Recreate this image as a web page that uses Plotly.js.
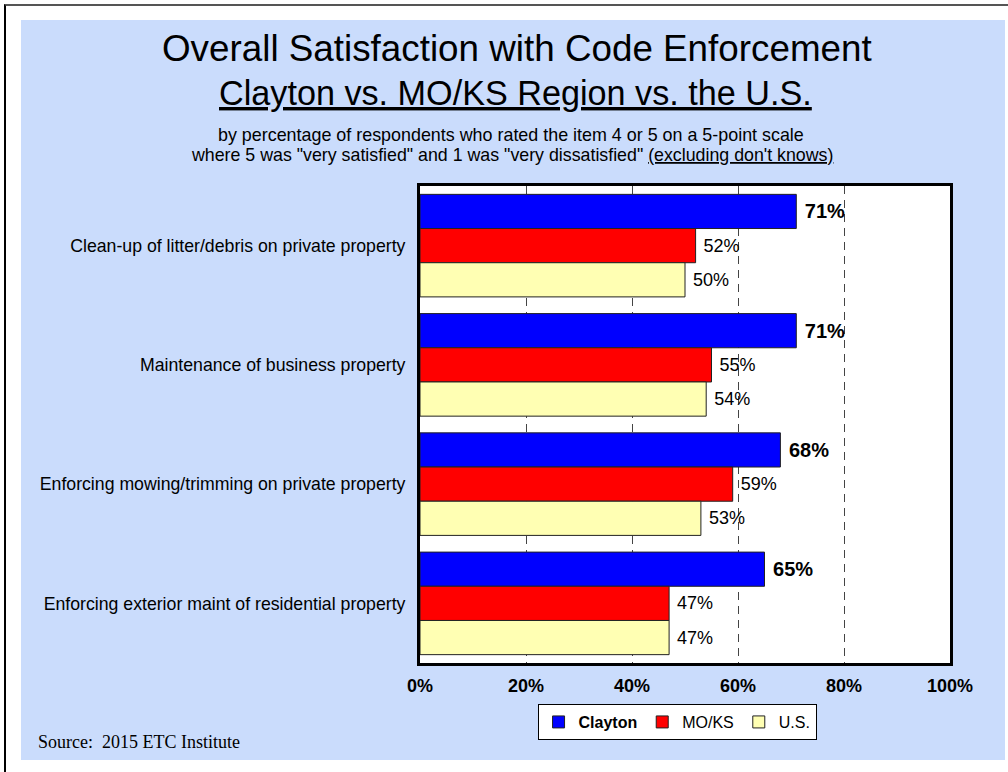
<!DOCTYPE html>
<html>
<head>
<meta charset="utf-8">
<script src="https://cdn.plot.ly/plotly-3.0.1.min.js"></script>
<style>
  html, body { margin: 0; padding: 0; background: #ffffff; width: 1008px; height: 772px; overflow: hidden; }
  #frame { position: absolute; left: 4px; top: 4px; width: 1004px; height: 768px;
           border-left: 2px solid #000; border-top: 2px solid #555; box-sizing: border-box; }
  #chart { position: absolute; left: 21px; top: 20px; width: 984px; height: 740px; }
</style>
</head>
<body>
<div id="frame"></div>
<div id="chart"></div>
<script>
// ---- data ----
const categories = [
  "Clean-up of litter/debris on private property",
  "Maintenance of business property",
  "Enforcing mowing/trimming on private property",
  "Enforcing exterior maint of residential property"
];
const seriesNames = ["Clayton", "MO/KS", "U.S."];
const clayton = [71, 71, 68, 65];
const moks = [52, 55, 59, 47];
const us = [50, 54, 53, 47];
const tickValues = [0, 20, 40, 60, 80, 100];
const tickLabels = ["0%", "20%", "40%", "60%", "80%", "100%"];

const FONT = "Liberation Sans, Arial, Helvetica, sans-serif";
const barLine = { color: "#222222", width: 1 };

function barTrace(values, color, labelFont, legendName) {
  return {
    type: "bar",
    orientation: "h",
    name: legendName,
    x: values,
    y: categories,
    marker: { color: color, line: barLine },
    texttemplate: "\u00a0%{x}%",
    textposition: "outside",
    textfont: labelFont,
    constraintext: "none",
    cliponaxis: false,
    hoverinfo: "skip"
  };
}

const data = [
  barTrace(clayton, "#0000FF", { family: FONT, size: 20, color: "#000", weight: "bold" }, "<b>" + seriesNames[0] + "</b>"),
  barTrace(moks, "#FF0000", { family: FONT, size: 18, color: "#000" }, seriesNames[1]),
  barTrace(us, "#FFFFB3", { family: FONT, size: 18, color: "#000" }, seriesNames[2])
];

const layout = {
  width: 984,
  height: 740,
  paper_bgcolor: "#CADCFC",
  plot_bgcolor: "#FFFFFF",
  margin: { l: 399, r: 55, t: 166, b: 97, pad: 0 },
  barmode: "group",
  bargap: 0.14,
  bargroupgap: 0,
  font: { family: FONT, color: "#000" },
  xaxis: {
    range: [0, 100],
    tickvals: tickValues,
    ticktext: tickLabels,
    ticks: "",
    ticklabelstandoff: 4,
    tickfont: { family: FONT, size: 18, color: "#000", weight: "bold" },
    showgrid: true,
    gridcolor: "#444444",
    gridwidth: 1,
    griddash: "8px,6px",
    zeroline: false,
    showline: true,
    mirror: true,
    linecolor: "#000",
    linewidth: 3,
    fixedrange: true
  },
  yaxis: {
    autorange: "reversed",
    ticks: "",
    ticklabelstandoff: 8,
    tickfont: { family: FONT, size: 17.7, color: "#000" },
    showgrid: false,
    zeroline: false,
    showline: true,
    mirror: true,
    linecolor: "#000",
    linewidth: 3,
    fixedrange: true
  },
  showlegend: true,
  legend: {
    orientation: "h",
    x: 0.485,
    xanchor: "center",
    y: -0.086,
    yanchor: "top",
    bgcolor: "#FFFFFF",
    bordercolor: "#000",
    borderwidth: 1,
    font: { family: FONT, size: 16, color: "#000" },
    itemwidth: 30,
    traceorder: "normal"
  },
  annotations: [
    { text: "Overall Satisfaction with Code Enforcement", xref: "paper", yref: "paper",
      x: 0.183, y: 1.289, xanchor: "center", yanchor: "middle", showarrow: false,
      font: { family: FONT, size: 36.8, color: "#000" } },
    { text: "Clayton vs. MO/KS Region vs. the U.S.", xref: "paper", yref: "paper",
      x: 0.181, y: 1.195, xanchor: "center", yanchor: "middle", showarrow: false,
      font: { family: FONT, size: 34.2, color: "#000", lineposition: "under" } },
    { text: "by percentage of respondents who rated the item 4 or 5 on a 5-point scale", xref: "paper", yref: "paper",
      x: 0.172, y: 1.107, xanchor: "center", yanchor: "middle", showarrow: false,
      font: { family: FONT, size: 17.9, color: "#000" } },
    { text: "where 5 was \"very satisfied\" and 1 was \"very dissatisfied\" <span style=\"text-decoration:underline\">(excluding don't knows)</span>",
      xref: "paper", yref: "paper",
      x: 0.174, y: 1.066, xanchor: "center", yanchor: "middle", showarrow: false,
      font: { family: FONT, size: 17.8, color: "#000" } },
    { text: "Source:  2015 ETC Institute", xref: "paper", yref: "paper",
      x: -0.7245, y: -0.166, xanchor: "left", yanchor: "middle", showarrow: false,
      font: { family: "Liberation Serif, Times New Roman, serif", size: 18, color: "#000" } }
  ]
};

Plotly.newPlot("chart", data, layout, { displayModeBar: false, staticPlot: true });
</script>
</body>
</html>
